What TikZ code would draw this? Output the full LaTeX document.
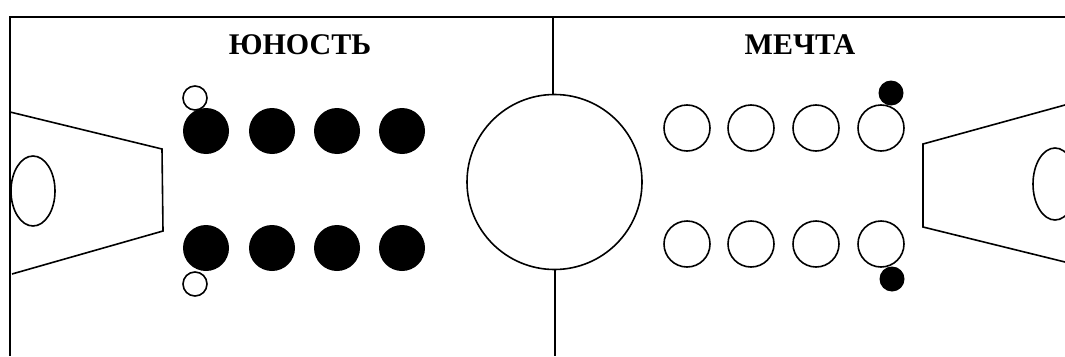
\documentclass[tikz,border=0pt]{standalone}
\usepackage{fontspec}
\setmainfont{Liberation Serif}
\begin{document}
\begin{tikzpicture}[x=1pt,y=-1pt,
  ln/.style={line width=1.6pt,black},
  full/.style={fill=black,draw=none},
  lbl/.style={font=\bfseries\fontsize{30}{30}\selectfont,inner sep=0pt}]
\useasboundingbox (0,0) rectangle (1065,356);
\clip (0,0) rectangle (1065,356);
% frame
\draw[ln] (1065,17) -- (10,17) -- (10,356);
% centre circle and line
\draw[ln] (554.5,182) circle (87.5);
\draw[ln] (553,17) -- (553,94.5);
\draw[ln] (555,269.5) -- (555,356);
% left goal area
\draw[ln] (10,112) -- (162,149) -- (163,231) -- (12,274);
\draw[ln] (33,191) ellipse (22 and 35);
% right goal area
\draw[ln] (1065,105) -- (923,144) -- (923,227) -- (1065,262);
\draw[ln] (1055,184) ellipse (22 and 36);
% labels
\node[lbl] (t1) at (300,45) {ЮНОСТЬ};
\node[lbl] (t2) at (800,45) {МЕЧТА};
% left team
\foreach \x in {206,272,337,402}{
  \fill[full] (\x,131) circle (23);
  \fill[full] (\x,248) circle (23);
}
\draw[ln,fill=white] (195,98) circle (12);
\draw[ln,fill=white] (195,284) circle (12);
% right team
\foreach \x in {687,751,816,881}{
  \draw[ln] (\x,128) circle (23);
  \draw[ln] (\x,244) circle (23);
}
\fill[full] (891,93) circle (12.5);
\fill[full] (892,279) circle (12.5);
\end{tikzpicture}
\end{document}
